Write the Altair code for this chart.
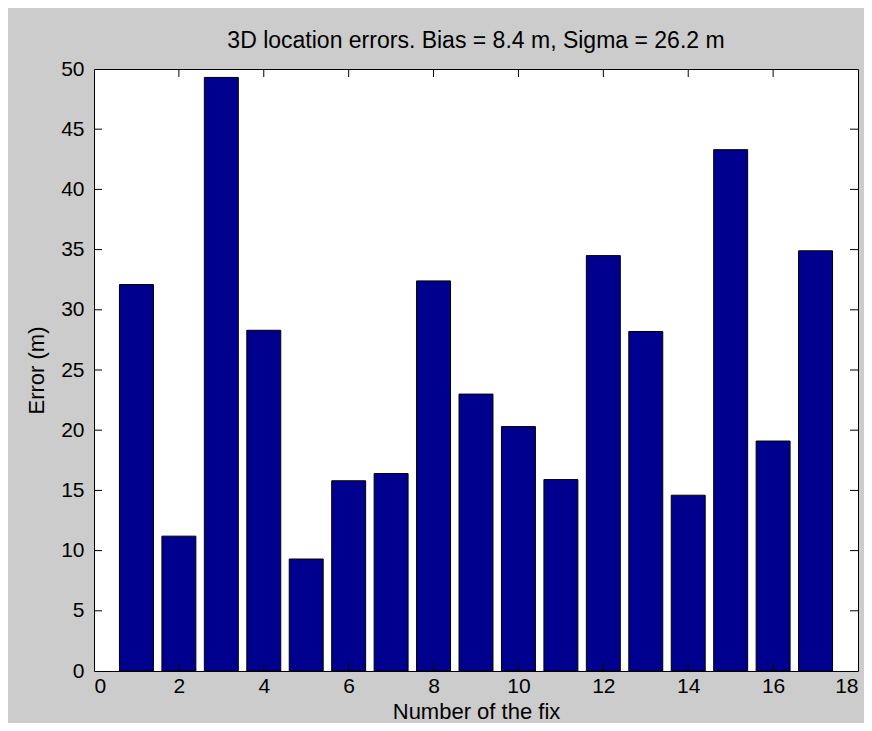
import altair as alt
import pandas as pd

# ---- data ----
fix_numbers = list(range(1, 18))
errors = [32.1, 11.2, 49.3, 28.3, 9.3, 15.8, 16.4, 32.4, 23.0,
          20.3, 15.9, 34.5, 28.2, 14.6, 43.3, 19.1, 34.9]
x_tick_values = [0, 2, 4, 6, 8, 10, 12, 14, 16, 18]
y_tick_values = [0, 5, 10, 15, 20, 25, 30, 35, 40, 45, 50]
title_text = "3D location errors. Bias = 8.4 m, Sigma = 26.2 m"

W, H = 764, 602
FONT = "Liberation Sans"
BAR_COLOR = "#00008f"

df = pd.DataFrame({"fix": fix_numbers, "error": errors})
xt_df = pd.DataFrame({"t": x_tick_values[1:-1]})
yt_df = pd.DataFrame({"t": y_tick_values[1:-1]})

xscale = alt.Scale(domain=[0, 18], nice=False, zero=False)
yscale = alt.Scale(domain=[0, 50], nice=False)

x_axis = alt.Axis(values=x_tick_values, title="Number of the fix",
                  ticks=False, domain=False, grid=False,
                  labelPadding=4, labelFontSize=21,
                  titleX=W / 2, titleY=40, titleBaseline="middle",
                  titleAnchor="middle")
y_axis = alt.Axis(values=y_tick_values, title="Error (m)",
                  ticks=False, domain=False, grid=False,
                  labelPadding=10, labelFontSize=21,
                  titleX=-58, titleY=H / 2, titleAngle=-90,
                  titleBaseline="middle", titleAnchor="middle")

bars = alt.Chart(df).transform_calculate(
    x0="datum.fix - 0.4", x1="datum.fix + 0.4"
).mark_rect(color=BAR_COLOR, stroke="black", strokeWidth=1).encode(
    x=alt.X("x0:Q", scale=xscale, axis=x_axis),
    x2="x1:Q",
    y=alt.Y("error:Q", scale=yscale, axis=y_axis),
    y2=alt.datum(0),
)

tick_style = dict(color="black", strokeWidth=1)
bottom_ticks = alt.Chart(xt_df).mark_rule(**tick_style).encode(
    x=alt.X("t:Q", scale=xscale, axis=x_axis), y=alt.value(H), y2=alt.value(H - 8))
top_ticks = alt.Chart(xt_df).mark_rule(**tick_style).encode(
    x=alt.X("t:Q", scale=xscale, axis=x_axis), y=alt.value(0), y2=alt.value(8))
left_ticks = alt.Chart(yt_df).mark_rule(**tick_style).encode(
    y=alt.Y("t:Q", scale=yscale, axis=y_axis), x=alt.value(0), x2=alt.value(8))
right_ticks = alt.Chart(yt_df).mark_rule(**tick_style).encode(
    y=alt.Y("t:Q", scale=yscale, axis=y_axis), x=alt.value(W - 8), x2=alt.value(W))

chart = alt.layer(bars, bottom_ticks, top_ticks, left_ticks, right_ticks).properties(
    width=W, height=H,
    title=alt.Title(title_text, font=FONT, fontSize=23, fontWeight="normal",
                    color="black", offset=5, anchor="middle"),
    background="#cccccc",
    autosize=alt.AutoSizeParams(type="none"),
    padding={"left": 86, "top": 61, "right": 6, "bottom": 52},
).configure_view(
    fill="white", stroke="black", strokeWidth=1
).configure_axis(
    labelFont=FONT, titleFont=FONT, labelColor="black", titleColor="black",
    titleFontSize=22, titleFontWeight="normal"
)

chart.save("out.html", embed_options={"renderer": "svg", "actions": False})
